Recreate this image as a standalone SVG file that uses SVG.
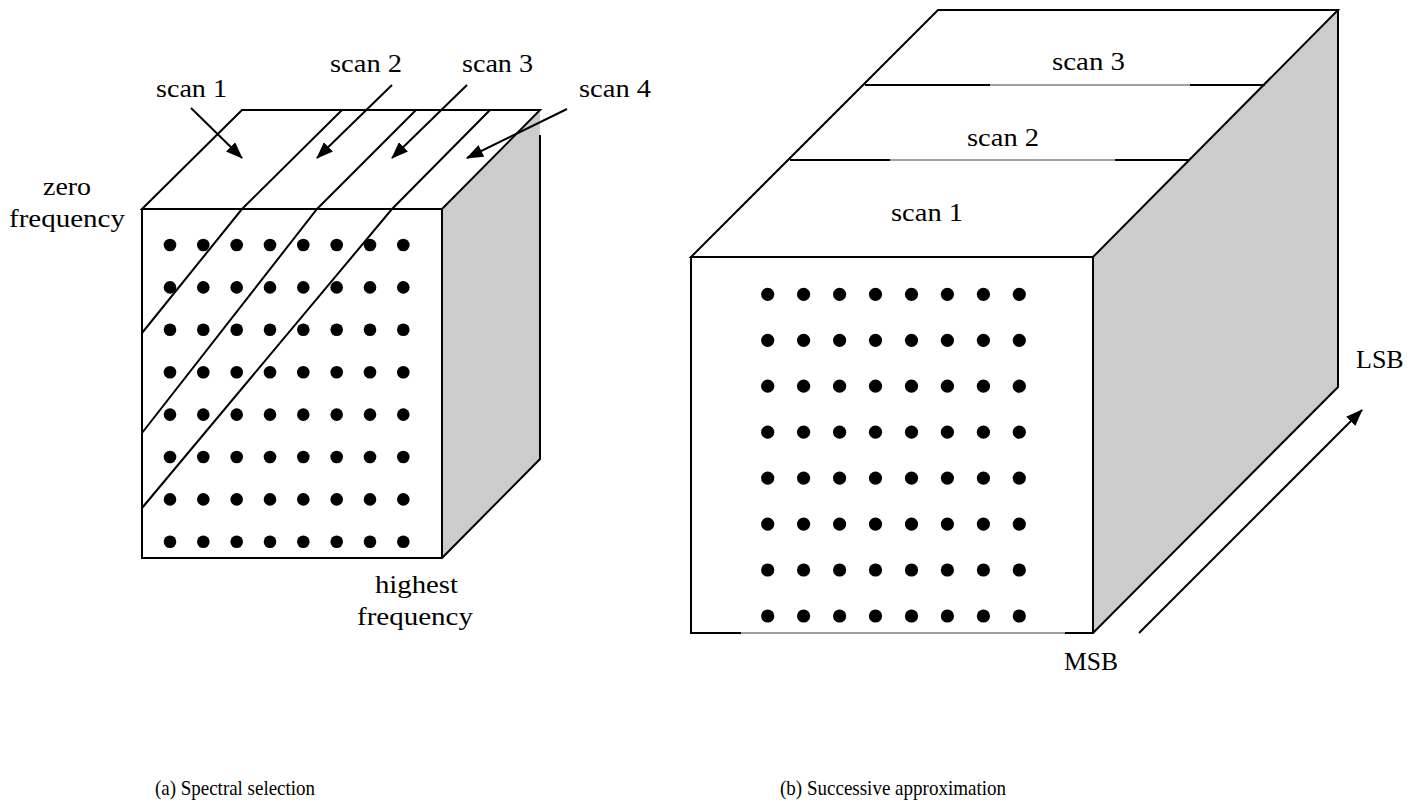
<svg xmlns="http://www.w3.org/2000/svg" width="1415" height="809" viewBox="0 0 1415 809">
<defs>
<marker id="ah" markerWidth="17" markerHeight="13" refX="16" refY="6.5" orient="auto" markerUnits="userSpaceOnUse"><path d="M0,0 L17,6.5 L0,13 z" fill="#000"/></marker>
<g id="rowA"><circle cx="170" cy="0" r="6.3"/><circle cx="203.3" cy="0" r="6.3"/><circle cx="236.7" cy="0" r="6.3"/><circle cx="270" cy="0" r="6.3"/><circle cx="303.3" cy="0" r="6.3"/><circle cx="336.7" cy="0" r="6.3"/><circle cx="370" cy="0" r="6.3"/><circle cx="403.3" cy="0" r="6.3"/></g>
<g id="rowB"><circle cx="767.7" cy="0" r="6.6"/><circle cx="803.6" cy="0" r="6.6"/><circle cx="839.6" cy="0" r="6.6"/><circle cx="875.5" cy="0" r="6.6"/><circle cx="911.5" cy="0" r="6.6"/><circle cx="947.4" cy="0" r="6.6"/><circle cx="983.4" cy="0" r="6.6"/><circle cx="1019.3" cy="0" r="6.6"/></g>
</defs>
<style>
.e{stroke:#000;stroke-width:2;fill:none;stroke-linejoin:miter}
.th{stroke:#444;stroke-width:1.2;fill:none}
.w{fill:#fff;stroke:none}
.g{fill:#ccc;stroke:none}
.t{font-family:"Liberation Serif","Times New Roman",serif;font-size:26px;fill:#000}
.c{font-family:"Liberation Serif","Times New Roman",serif;font-size:22px;fill:#000}
.a{stroke:#000;stroke-width:2;fill:none;marker-end:url(#ah)}
</style>
<rect width="1415" height="809" fill="#fff"/>

<g id="cube-spectral">
<polygon class="g" points="442,209 540,110 540,459 442,558"/>
<polygon class="w" points="142,209 242,110 540,110 442,209"/>
<rect class="w" x="142" y="209" width="300" height="349"/>
<polygon class="e" points="142,209 242,110 540,110 442,209"/>
<rect class="e" x="142" y="209" width="300" height="349"/>
<polyline class="e" points="540,135 540,459 442,558"/>
<polyline class="e" points="342,110 242,209 142,333"/>
<polyline class="e" points="416,110 317,209 142,433"/>
<polyline class="e" points="490,110 392,209 142,508"/>
<g fill="#000">
<use href="#rowA" y="245"/><use href="#rowA" y="287.4"/><use href="#rowA" y="329.8"/><use href="#rowA" y="372.2"/>
<use href="#rowA" y="414.6"/><use href="#rowA" y="457"/><use href="#rowA" y="499.4"/><use href="#rowA" y="541.8"/>
</g>
</g>

<g id="labels-spectral">
<text class="t" x="156" y="97" textLength="71" lengthAdjust="spacingAndGlyphs">scan 1</text>
<text class="t" x="330" y="72" textLength="72" lengthAdjust="spacingAndGlyphs">scan 2</text>
<text class="t" x="462" y="72" textLength="71" lengthAdjust="spacingAndGlyphs">scan 3</text>
<text class="t" x="579" y="97" textLength="72" lengthAdjust="spacingAndGlyphs">scan 4</text>
<text class="t" x="43" y="195" textLength="48" lengthAdjust="spacingAndGlyphs">zero</text>
<text class="t" x="9" y="227" textLength="116" lengthAdjust="spacingAndGlyphs">frequency</text>
<text class="t" x="375" y="593" textLength="83" lengthAdjust="spacingAndGlyphs">highest</text>
<text class="t" x="357" y="625" textLength="116" lengthAdjust="spacingAndGlyphs">frequency</text>
</g>

<g id="cube-successive">
<polygon class="g" points="1093,257 1338,10 1338,387 1093,633"/>
<polygon class="w" points="691,257 938,10 1338,10 1093,257"/>
<rect class="w" x="691" y="257" width="402" height="376"/>
<polygon class="e" points="691,257 938,10 1338,10 1093,257"/>
<polyline class="e" points="741,633 691,633 691,257 1093,257 1093,633 1065,633"/>
<line class="th" x1="741" y1="633" x2="1065" y2="633"/>
<polyline class="e" points="1338,10 1338,387 1093,633"/>
<line class="e" x1="865" y1="85" x2="990" y2="85"/>
<line class="th" x1="990" y1="85" x2="1190" y2="85"/>
<line class="e" x1="1190" y1="85" x2="1265" y2="85"/>
<line class="e" x1="790" y1="160" x2="890" y2="160"/>
<line class="th" x1="890" y1="160" x2="1115" y2="160"/>
<line class="e" x1="1115" y1="160" x2="1190" y2="160"/>
<g fill="#000">
<use href="#rowB" y="294.3"/><use href="#rowB" y="340.3"/><use href="#rowB" y="386.2"/><use href="#rowB" y="432.2"/>
<use href="#rowB" y="478.1"/><use href="#rowB" y="524.1"/><use href="#rowB" y="570"/><use href="#rowB" y="616"/>
</g>
</g>

<g id="labels-successive">
<text class="t" x="1052" y="70" textLength="73" lengthAdjust="spacingAndGlyphs">scan 3</text>
<text class="t" x="967" y="146" textLength="72" lengthAdjust="spacingAndGlyphs">scan 2</text>
<text class="t" x="891" y="221" textLength="72" lengthAdjust="spacingAndGlyphs">scan 1</text>
<text class="t" x="1064" y="670" textLength="54" lengthAdjust="spacingAndGlyphs">MSB</text>
<text class="t" x="1356" y="368">LSB</text>
</g>

<g id="connectors">
<line class="a" x1="191" y1="108" x2="242" y2="158"/>
<line class="a" x1="392" y1="85" x2="317" y2="158"/>
<line class="a" x1="467" y1="85" x2="392" y2="158"/>
<line class="a" x1="567" y1="109" x2="467" y2="158"/>
<line class="a" x1="1139" y1="633" x2="1362" y2="410"/>
</g>

<g id="captions">
<text class="c" x="155" y="795" textLength="160" lengthAdjust="spacingAndGlyphs">(a) Spectral selection</text>
<text class="c" x="780" y="795" textLength="226" lengthAdjust="spacingAndGlyphs">(b) Successive approximation</text>
</g>
</svg>
